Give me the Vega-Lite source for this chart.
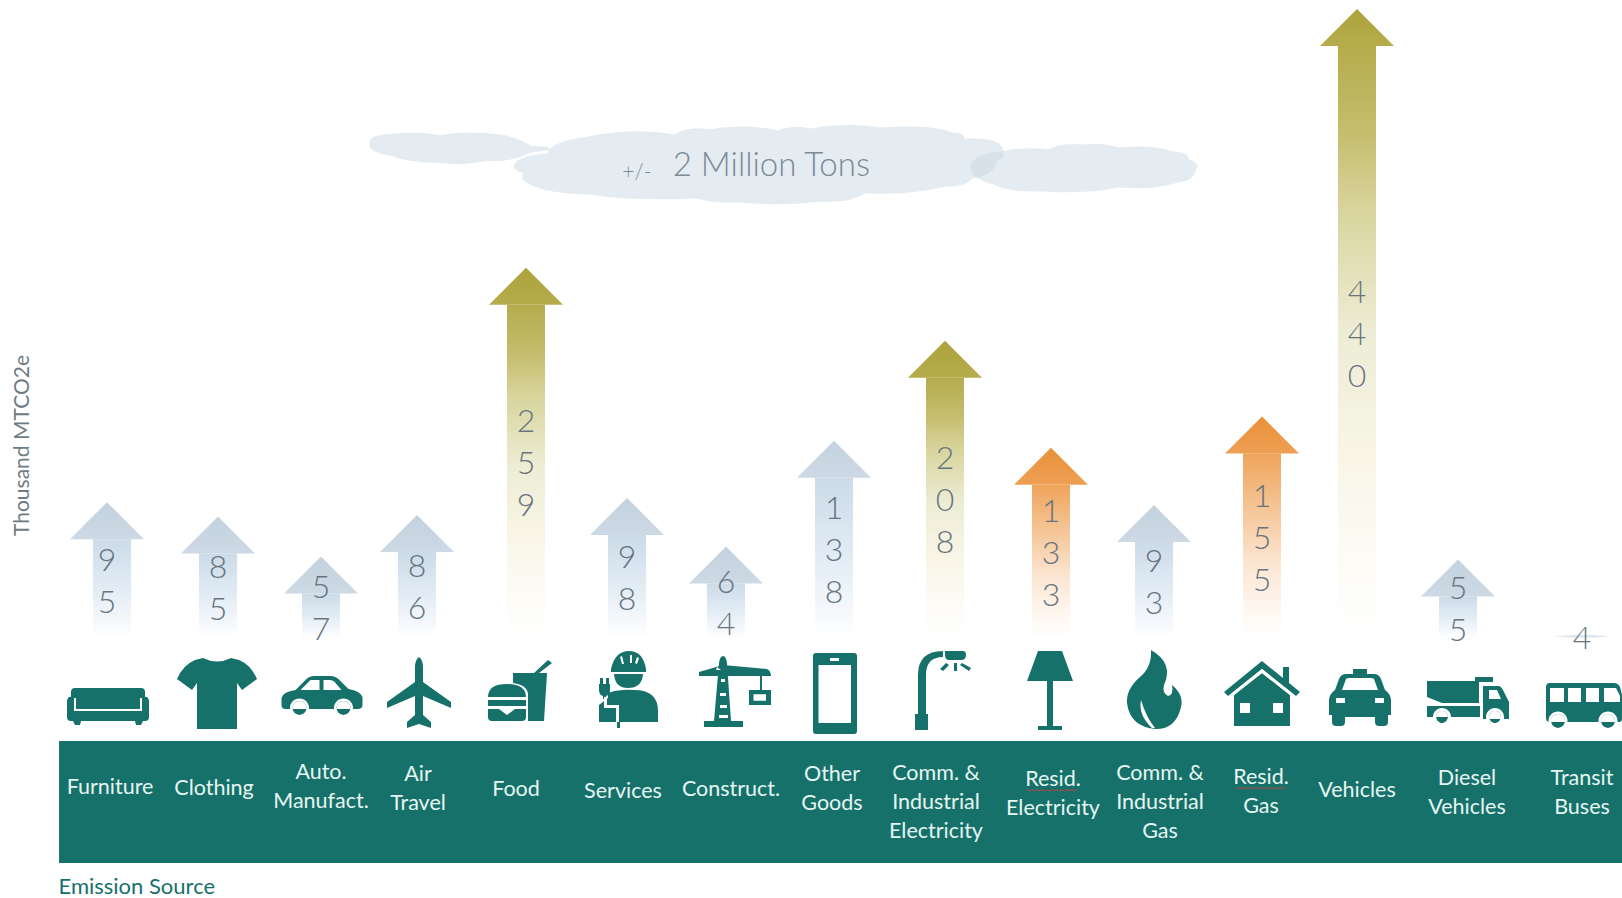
{
  "$schema": "https://vega.github.io/schema/vega-lite/v6.json",
  "width": 1622,
  "height": 898,
  "padding": 0,
  "autosize": "none",
  "background": "#ffffff",
  "view": {"stroke": null},
  "config": {"font": "Lato"},
  "datasets": {
    "sources": [
      {"order": 1, "source": "Furniture", "label": "Furniture", "value": 95, "tier": "A"},
      {"order": 2, "source": "Clothing", "label": "Clothing", "value": 85, "tier": "A"},
      {"order": 3, "source": "Auto", "label": "Auto.\nManufact.", "value": 57, "tier": "A"},
      {"order": 4, "source": "Air", "label": "Air\nTravel", "value": 86, "tier": "A"},
      {"order": 5, "source": "Food", "label": "Food", "value": 259, "tier": "B"},
      {"order": 6, "source": "Services", "label": "Services", "value": 98, "tier": "A"},
      {"order": 7, "source": "Construct", "label": "Construct.", "value": 64, "tier": "A"},
      {"order": 8, "source": "OtherGoods", "label": "Other\nGoods", "value": 138, "tier": "A"},
      {"order": 9, "source": "CommElec", "label": "Comm. &\nIndustrial\nElectricity", "value": 208, "tier": "B"},
      {"order": 10, "source": "ResidElec", "label": "Resid.\nElectricity", "value": 133, "tier": "C"},
      {"order": 11, "source": "CommGas", "label": "Comm. &\nIndustrial\nGas", "value": 93, "tier": "A"},
      {"order": 12, "source": "ResidGas", "label": "Resid.\nGas", "value": 155, "tier": "C"},
      {"order": 13, "source": "Vehicles", "label": "Vehicles", "value": 440, "tier": "B"},
      {"order": 14, "source": "Diesel", "label": "Diesel\nVehicles", "value": 55, "tier": "A"},
      {"order": 15, "source": "Transit", "label": "Transit\nBuses", "value": 4, "tier": "A"}
    ]
  },
  "data": {"name": "sources"},
  "resolve": {"scale": {"x": "independent", "y": "independent", "shape": "independent"}},
  "layer": [
    {
      "data": {"values": [{"part": "label strip"}]},
      "mark": {"type": "rect", "fill": "#17716B"},
      "encoding": {
        "x": {"datum": 0.568, "type": "quantitative", "axis": null, "scale": {"domain": [1,2,3,4,5,6,7,8,9,10,11,12,13,14,15], "range": [107,218,321,417,526,627,726,834,945,1051,1154,1262,1357,1458,1582], "nice": false}},
        "x2": {"datum": 15.4},
        "y": {"datum": -72, "type": "quantitative", "axis": null, "scale": {"domain": [0,440], "range": [638,9], "nice": false}},
        "y2": {"datum": -157.4}
      }
    },
    {
      "data": {"values": [{"part": "cloud left"}]},
      "mark": {"type": "point", "filled": true, "size": 4, "fill": "#C5D4DF", "opacity": 0.45, "strokeWidth": 0, "shape": "M-90,-5 Q-92,-14 -70,-15 Q-45,-18 -20,-14 Q10,-19 45,-14 Q62,-10 72,-3 Q92,-3 90,1 Q70,3 66,6 Q50,13 25,12 Q5,17 -20,14 Q-50,14 -68,7 Q-92,3 -90,-5 Z"},
      "encoding": {
        "x": {"datum": 4.39, "type": "quantitative", "axis": null, "scale": {"domain": [1,2,3,4,5,6,7,8,9,10,11,12,13,14,15], "range": [107,218,321,417,526,627,726,834,945,1051,1154,1262,1357,1458,1582], "nice": false}},
        "y": {"datum": 342, "type": "quantitative", "axis": null, "scale": {"domain": [0,440], "range": [638,9], "nice": false}}
      }
    },
    {
      "data": {"values": [{"part": "cloud right"}]},
      "mark": {"type": "point", "filled": true, "size": 4, "fill": "#C5D4DF", "opacity": 0.45, "strokeWidth": 0, "shape": "M-113,-1 Q-110,-16 -81,-17 Q-60,-22 -35,-19 Q-20,-26 -2,-24 Q20,-26 36,-21 Q70,-24 90,-17 Q106,-17 106,-9 Q118,-5 113,1 Q112,12 95,14 Q70,22 36,19 Q0,26 -40,23 Q-75,24 -89,16 Q-112,10 -113,-1 Z"},
      "encoding": {
        "x": {"datum": 10.31, "type": "quantitative", "axis": null, "scale": {"domain": [1,2,3,4,5,6,7,8,9,10,11,12,13,14,15], "range": [107,218,321,417,526,627,726,834,945,1051,1154,1262,1357,1458,1582], "nice": false}},
        "y": {"datum": 328.5, "type": "quantitative", "axis": null, "scale": {"domain": [0,440], "range": [638,9], "nice": false}}
      }
    },
    {
      "data": {"values": [{"part": "cloud main"}]},
      "mark": {"type": "point", "filled": true, "size": 4, "fill": "#C5D4DF", "opacity": 0.45, "strokeWidth": 0, "shape": "M-244,-3 Q-235,-11 -212,-12 Q-210,-24 -171,-29 Q-125,-38 -85,-31 Q-70,-40 -52,-36 Q-15,-42 18,-35 Q35,-41 51,-37 Q90,-43 121,-38 Q175,-41 192,-33 Q205,-33 205,-27 Q240,-28 243,-17 Q248,-8 238,-5 Q235,10 213,13 Q205,22 186,21 Q150,30 105,28 Q90,38 62,36 Q20,41 -20,37 Q-45,38 -63,33 Q-125,36 -171,29 Q-215,28 -231,18 Q-240,14 -236,8 Q-250,4 -244,-3 Z"},
      "encoding": {
        "x": {"datum": 7.31, "type": "quantitative", "axis": null, "scale": {"domain": [1,2,3,4,5,6,7,8,9,10,11,12,13,14,15], "range": [107,218,321,417,526,627,726,834,945,1051,1154,1262,1357,1458,1582], "nice": false}},
        "y": {"datum": 330.6, "type": "quantitative", "axis": null, "scale": {"domain": [0,440], "range": [638,9], "nice": false}}
      }
    },
    {
      "data": {"values": [{"note": "+/-"}]},
      "mark": {"type": "text", "font": "Lato", "fontWeight": 300, "fontSize": 21, "fill": "#7A8A96", "align": "center", "baseline": "middle"},
      "encoding": {
        "text": {"field": "note", "type": "nominal"},
        "x": {"datum": 6.1, "type": "quantitative", "axis": null, "scale": {"domain": [1,2,3,4,5,6,7,8,9,10,11,12,13,14,15], "range": [107,218,321,417,526,627,726,834,945,1051,1154,1262,1357,1458,1582], "nice": false}},
        "y": {"datum": 325.5, "type": "quantitative", "axis": null, "scale": {"domain": [0,440], "range": [638,9], "nice": false}}
      }
    },
    {
      "data": {"values": [{"note": "2 Million Tons"}]},
      "mark": {"type": "text", "font": "Lato", "fontWeight": 300, "fontSize": 33, "fill": "#7A8A96", "align": "center", "baseline": "middle", "letterSpacing": 1},
      "encoding": {
        "text": {"field": "note", "type": "nominal"},
        "x": {"datum": 7.42, "type": "quantitative", "axis": null, "scale": {"domain": [1,2,3,4,5,6,7,8,9,10,11,12,13,14,15], "range": [107,218,321,417,526,627,726,834,945,1051,1154,1262,1357,1458,1582], "nice": false}},
        "y": {"datum": 330, "type": "quantitative", "axis": null, "scale": {"domain": [0,440], "range": [638,9], "nice": false}}
      }
    },
    {
      "transform": [{"filter": "datum.tier === 'A'"}, {"calculate": "max(datum.value - 25.9, 0)", "as": "shaftTop"}],
      "mark": {"type": "bar", "orient": "vertical", "width": 38, "fill": {"gradient": "linear", "x1": 0, "y1": 0, "x2": 0, "y2": 1, "stops": [{"offset": 0, "color": "#CCDBE8"}, {"offset": 0.5, "color": "#E2ECF5"}, {"offset": 0.85, "color": "#F6F9FC"}, {"offset": 1, "color": "#FFFFFF"}]}},
      "encoding": {
        "x": {"field": "order", "type": "quantitative", "title": "Emission Source", "scale": {"domain": [1,2,3,4,5,6,7,8,9,10,11,12,13,14,15], "range": [107,218,321,417,526,627,726,834,945,1051,1154,1262,1357,1458,1582], "nice": false}, "axis": {"labels": false, "ticks": false, "domain": false, "grid": false, "titleX": 58, "titleY": -12, "titleAlign": "left", "titleBaseline": "middle", "titleFont": "Lato", "titleFontWeight": "normal", "titleFontSize": 22, "titleColor": "#17716B"}},
        "y": {"field": "shaftTop", "type": "quantitative", "title": "Thousand MTCO2e", "scale": {"domain": [0,440], "range": [638,9], "nice": false}, "axis": {"labels": false, "ticks": false, "domain": false, "grid": false, "titleX": 22, "titleY": 445, "titleAngle": -90, "titleAlign": "center", "titleBaseline": "middle", "titleFont": "Lato", "titleFontWeight": "normal", "titleFontSize": 21, "titleColor": "#6E7C85"}},
        "y2": {"datum": 0}
      }
    },
    {
      "transform": [{"filter": "datum.tier === 'B'"}, {"calculate": "max(datum.value - 25.9, 0)", "as": "shaftTop"}],
      "mark": {"type": "bar", "orient": "vertical", "width": 38, "fill": {"gradient": "linear", "x1": 0, "y1": 0, "x2": 0, "y2": 1, "stops": [{"offset": 0, "color": "#B5AC4C"}, {"offset": 0.15, "color": "#C5BE6E"}, {"offset": 0.28, "color": "#D9D59E"}, {"offset": 0.48, "color": "#EDECD4"}, {"offset": 0.7, "color": "#F9F6E8"}, {"offset": 1, "color": "#FFFFFF"}]}},
      "encoding": {
        "x": {"field": "order", "type": "quantitative", "axis": null, "scale": {"domain": [1,2,3,4,5,6,7,8,9,10,11,12,13,14,15], "range": [107,218,321,417,526,627,726,834,945,1051,1154,1262,1357,1458,1582], "nice": false}},
        "y": {"field": "shaftTop", "type": "quantitative", "axis": null, "scale": {"domain": [0,440], "range": [638,9], "nice": false}},
        "y2": {"datum": 0}
      }
    },
    {
      "transform": [{"filter": "datum.tier === 'C'"}, {"calculate": "max(datum.value - 25.9, 0)", "as": "shaftTop"}],
      "mark": {"type": "bar", "orient": "vertical", "width": 38, "fill": {"gradient": "linear", "x1": 0, "y1": 0, "x2": 0, "y2": 1, "stops": [{"offset": 0, "color": "#EFA45A"}, {"offset": 0.3, "color": "#F5C597"}, {"offset": 0.6, "color": "#FCE6D2"}, {"offset": 0.85, "color": "#FEF7F0"}, {"offset": 1, "color": "#FFFFFF"}]}},
      "encoding": {
        "x": {"field": "order", "type": "quantitative", "axis": null, "scale": {"domain": [1,2,3,4,5,6,7,8,9,10,11,12,13,14,15], "range": [107,218,321,417,526,627,726,834,945,1051,1154,1262,1357,1458,1582], "nice": false}},
        "y": {"field": "shaftTop", "type": "quantitative", "axis": null, "scale": {"domain": [0,440], "range": [638,9], "nice": false}},
        "y2": {"datum": 0}
      }
    },
    {
      "transform": [{"filter": "datum.tier === 'A'"}],
      "mark": {"type": "point", "filled": true, "size": 4, "strokeWidth": 0, "fill": {"gradient": "linear", "x1": 0, "y1": 0, "x2": 0, "y2": 1, "stops": [{"offset": 0, "color": "#C3D2DF"}, {"offset": 1, "color": "#CDD9E4"}]}},
      "encoding": {
        "x": {"field": "order", "type": "quantitative", "axis": null, "scale": {"domain": [1,2,3,4,5,6,7,8,9,10,11,12,13,14,15], "range": [107,218,321,417,526,627,726,834,945,1051,1154,1262,1357,1458,1582], "nice": false}},
        "y": {"field": "value", "type": "quantitative", "axis": null, "scale": {"domain": [0,440], "range": [638,9], "nice": false}},
        "opacity": {"condition": {"test": "datum.value < 10", "value": 0.6}, "value": 1},
        "shape": {"condition": {"test": "datum.value < 10", "value": "M-28,4 Q0,1 28,4 Q0,7 -28,4 Z"}, "value": "M0,0 L37,37 L-37,37 Z"}
      }
    },
    {
      "transform": [{"filter": "datum.tier === 'B'"}],
      "mark": {"type": "point", "filled": true, "size": 4, "strokeWidth": 0, "opacity": 1, "shape": "M0,0 L37,37 L-37,37 Z", "fill": {"gradient": "linear", "x1": 0, "y1": 0, "x2": 0, "y2": 1, "stops": [{"offset": 0, "color": "#ACA33C"}, {"offset": 1, "color": "#B5AC4C"}]}},
      "encoding": {
        "x": {"field": "order", "type": "quantitative", "axis": null, "scale": {"domain": [1,2,3,4,5,6,7,8,9,10,11,12,13,14,15], "range": [107,218,321,417,526,627,726,834,945,1051,1154,1262,1357,1458,1582], "nice": false}},
        "y": {"field": "value", "type": "quantitative", "axis": null, "scale": {"domain": [0,440], "range": [638,9], "nice": false}}
      }
    },
    {
      "transform": [{"filter": "datum.tier === 'C'"}],
      "mark": {"type": "point", "filled": true, "size": 4, "strokeWidth": 0, "opacity": 1, "shape": "M0,0 L37,37 L-37,37 Z", "fill": {"gradient": "linear", "x1": 0, "y1": 0, "x2": 0, "y2": 1, "stops": [{"offset": 0, "color": "#E89038"}, {"offset": 1, "color": "#EFA054"}]}},
      "encoding": {
        "x": {"field": "order", "type": "quantitative", "axis": null, "scale": {"domain": [1,2,3,4,5,6,7,8,9,10,11,12,13,14,15], "range": [107,218,321,417,526,627,726,834,945,1051,1154,1262,1357,1458,1582], "nice": false}},
        "y": {"field": "value", "type": "quantitative", "axis": null, "scale": {"domain": [0,440], "range": [638,9], "nice": false}}
      }
    },
    {
      "transform": [
        {"calculate": "join(split('' + datum.value, ''), '\\n')", "as": "digits"},
        {"calculate": "datum.value / 2", "as": "middle"}
      ],
      "mark": {"type": "text", "font": "Lato", "fontWeight": 300, "fontSize": 32, "fill": "#66757F", "align": "center", "baseline": "middle", "lineBreak": "\n", "lineHeight": 42, "yOffset": {"expr": "(datum.value < 10 ? 4 : 11.5) - (length('' + datum.value) - 1) * 21"}},
      "encoding": {
        "text": {"field": "digits", "type": "nominal"},
        "x": {"field": "order", "type": "quantitative", "axis": null, "scale": {"domain": [1,2,3,4,5,6,7,8,9,10,11,12,13,14,15], "range": [107,218,321,417,526,627,726,834,945,1051,1154,1262,1357,1458,1582], "nice": false}},
        "y": {"field": "middle", "type": "quantitative", "axis": null, "scale": {"domain": [0,440], "range": [638,9], "nice": false}}
      }
    },
    {
      "mark": {"type": "point", "filled": true, "size": 4, "strokeWidth": 0, "opacity": 1, "fill": "#17716B"},
      "encoding": {
        "x": {"field": "order", "type": "quantitative", "axis": null, "scale": {"domain": [1,2,3,4,5,6,7,8,9,10,11,12,13,14,15], "range": [108,217,321.5,419,520,628,735,835,943,1050,1154,1262,1360,1468,1584], "nice": false}},
        "y": {"datum": -38.5, "type": "quantitative", "axis": null, "scale": {"domain": [0,440], "range": [638,9], "nice": false}},
        "shape": {
          "field": "source", "type": "nominal", "legend": null,
          "scale": {
            "domain": ["Furniture","Clothing","Auto","Air","Food","Services","Construct","OtherGoods","CommElec","ResidElec","CommGas","ResidGas","Vehicles","Diesel","Transit"],
            "range": [
              "M-33,-5 H33 Q37,-5 37,-1 V4 Q40,3 41,8 V24 Q41,28 37,28 H35 L33,32 H28 L27,28 H-27 L-28,32 H-33 L-35,28 H-37 Q-41,28 -41,24 V8 Q-40,3 -37,4 V-1 Q-37,-5 -33,-5 Z",
              "M-14,-35 Q0,-28 14,-35 L22,-33 Q34,-28 40,-14 L25,-3 L20,-10 V36 H-20 V-10 L-25,-3 L-40,-14 Q-34,-28 -22,-33 Z",
              "M-40,12 V5 Q-39,-1 -26,-3 L-15,-14 Q-12,-17 -7,-17 H9 Q14,-17 18,-13 L27,-4 Q39,-2 41,4 V12 Q41,16 36,16 H-36 Q-40,16 -40,12 Z M-29,15 a7,7 0 1,0 14,0 a7,7 0 1,0 -14,0 Z M15,15 a7,7 0 1,0 14,0 a7,7 0 1,0 -14,0 Z",
              "M0,-36 Q4,-33 4,-26 V-11 L32,9 V15 L4,3 V22 L12,29 V35 L0,31 L-12,35 V29 L-4,22 V3 L-32,15 V9 L-4,-11 V-26 Q-4,-33 0,-36 Z",
              "M-7,-20 H27 L24,28 H8 V2 Q8,-8 -7,-10 Z M14,-20 L28,-33 L32,-30 L19,-20 Z M-32,4 Q-32,-9 -13,-9 Q6,-9 6,4 Z M-32,7 H6 V13 H-32 Z M-32,16 H-21 L-13,22 L-5,16 H6 V24 Q6,28 2,28 H-28 Q-32,28 -32,24 Z",
              "M-17,-24 Q-13,-42 1,-42 Q15,-42 18,-24 L18,-21 H-17 Z M-14,-19 H15 Q14,-5 0,-5 Q-13,-5 -14,-19 Z M-29,29 V12 L-20,5 V0 Q-8,-4 6,-3 Q30,-3 30,18 V29 Z M-11,29 H-8 V35 H-11 Z M-28,-15 H-25 V-9 H-22 V-15 H-19 V-9 H-18 V-3 Q-18,2 -22,3 V6 H-25 V3 Q-29,2 -29,-3 V-9 H-28 Z",
              "M-12,-37 Q-9,-37 -8,-30 L-4,28 H8 V34 H-31 V28 H-21 L-16,-30 Q-15,-37 -12,-37 Z M-36,-21 L-12,-28 L32,-24 Q36,-22 36,-17 H-36 Z M25,-17 H27 V-3 H25 Z M14,-3 H36 V12 H14 Z",
              "M-19,-40 H19 Q22,-40 22,-37 V38 Q22,41 19,41 H-19 Q-22,41 -22,38 V-37 Q-22,-40 -19,-40 Z",
              "M-25,21 V-18 Q-25,-42 0,-42 V-36 Q-17,-36 -17,-18 V21 Z M-28,21 H-15 V37 H-28 Z M2,-42 H20 Q23,-42 23,-38 Q23,-33 18,-33 H6 Q2,-33 2,-38 Z M11,-30 H14 V-22 H11 Z M3,-30 L6,-28 L0,-22 L-3,-24 Z M19,-30 L28,-25 L26,-22 L17,-28 Z",
              "M-12,-42 H12 L23,-12 H-23 Z M-3,-12 H3 V33 H12 V37 H-12 V33 H-3 Z",
              "M-3,-43 Q20,-30 10,-8 Q8,0 14,3 Q20,2 18,-8 Q30,2 27,14 Q22,36 2,36 Q-24,34 -27,10 Q-28,-4 -14,-16 Q-2,-26 -3,-43 Z",
              "M0,-32 L21,-15 V-26 H27 V-10 L38,-1 L34,3 L0,-24 L-34,3 L-38,-1 Z M-28,2 L0,-20 L28,2 V33 H-28 Z",
              "M-7,-24 H7 V-19 H14 Q19,-19 21,-14 L25,-3 Q31,1 31,8 V22 H28 V29 Q28,33 24,33 H19 Q15,33 15,29 V24 H-15 V29 Q-15,33 -19,33 H-24 Q-28,33 -28,29 V22 H-31 V8 Q-31,1 -25,-3 L-21,-14 Q-19,-19 -14,-19 H-7 Z",
              "M-41,-12 H7 V-16 H25 V-11 H11 V10 H-26 L-41,4 Z M-41,13 H12 V24 H-41 Z M15,-7 H30 Q33,-7 35,-3 L41,9 V26 H15 Z M-32,24 a6,6 0 1,0 12,0 a6,6 0 1,0 -12,0 Z M21,24 a6,6 0 1,0 12,0 a6,6 0 1,0 -12,0 Z",
              "M-34,-10 H30 Q34,-10 36,-6 L38,2 V26 Q38,29 35,29 H-34 Q-38,29 -38,25 V-6 Q-38,-10 -34,-10 Z M-33,28 a7,7 0 1,0 14,0 a7,7 0 1,0 -14,0 Z M17,28 a7,7 0 1,0 14,0 a7,7 0 1,0 -14,0 Z"
            ]
          }
        }
      }
    },
    {
      "mark": {"type": "point", "filled": true, "size": 4, "strokeWidth": 0, "opacity": 1, "fill": "#FFFFFF"},
      "encoding": {
        "x": {"field": "order", "type": "quantitative", "axis": null, "scale": {"domain": [1,2,3,4,5,6,7,8,9,10,11,12,13,14,15], "range": [108,217,321.5,419,520,628,735,835,943,1050,1154,1262,1360,1468,1584], "nice": false}},
        "y": {"datum": -38.5, "type": "quantitative", "axis": null, "scale": {"domain": [0,440], "range": [638,9], "nice": false}},
        "shape": {
          "field": "source", "type": "nominal", "legend": null,
          "scale": {
            "domain": ["Furniture","Clothing","Auto","Air","Food","Services","Construct","OtherGoods","CommElec","ResidElec","CommGas","ResidGas","Vehicles","Diesel","Transit"],
            "range": [
              "M-34,5 H-32 V16 H32 V5 H34 V18 H-34 Z",
              "M0,0 Z",
              "M-21,-3 L-11,-13 H-2 V-3 Z M2,-13 H8 Q12,-13 14,-10 L20,-3 H2 Z M-31.5,15 a9.5,9.5 0 1,0 19,0 a9.5,9.5 0 1,0 -19,0 Z M-29,15 a7,7 0 1,1 14,0 a7,7 0 1,1 -14,0 Z M12.5,15 a9.5,9.5 0 1,0 19,0 a9.5,9.5 0 1,0 -19,0 Z M15,15 a7,7 0 1,1 14,0 a7,7 0 1,1 -14,0 Z",
              "M0,0 Z",
              "M-24,5 H-2 V5.5 H-24 Z",
              "M-24,4 H-21 V12 H-9 V29 H-12 V15 H-24 Z M-6,-37 L-4,-29 L-6,-29 L-8,-36 Z M2,-38 H4 V-30 H2 Z M9,-36 L11,-35 L9,-29 L7,-30 Z",
              "M-14,-14 H-10 V-11 H-14 Z M-15,0 H-9 V3 H-15 Z M-15,12 H-8 V15 H-15 Z M-16,22 H-7 V25 H-16 Z M18.5,1.3 H31 V7.7 H18.5 Z M-18,-26 L-14,-23 H-19 Z",
              "M-16.5,-28 H16 V30 H-16.5 Z M-5,-35 H4 V-32 H-5 Z",
              "M0,0 Z",
              "M3,-12 H5 V-3 H3 Z",
              "M-13,7 Q-16,22 -2,35 L1,35 Q-8,24 -13,7 Z",
              "M-28,2 L0,-20 L0,-24 L-30,0 Z M28,2 L0,-20 L0,-24 L30,0 Z M-22,10 H-12 V20 H-22 Z M11,10 H21 V20 H11 Z",
              "M-18,-3 L-14,-14 Q-13,-15 -11,-15 H11 Q13,-15 14,-14 L18,-3 Z M-24,5 H-15 V10 H-24 Z M15,5 H24 V10 H15 Z",
              "M21,-3 H29 L33,6 H21 Z M-35,24 a9,9 0 1,0 18,0 a9,9 0 1,0 -18,0 Z M-32,24 a6,6 0 1,1 12,0 a6,6 0 1,1 -12,0 Z M18,24 a9,9 0 1,0 18,0 a9,9 0 1,0 -18,0 Z M21,24 a6,6 0 1,1 12,0 a6,6 0 1,1 -12,0 Z",
              "M-34,-5 H-20 V9 H-34 Z M-16,-5 H-3 V9 H-16 Z M2,-5 H15 V9 H2 Z M20,-5 H32 L36,3 V9 H20 Z M-35.5,28 a9.5,9.5 0 1,0 19,0 a9.5,9.5 0 1,0 -19,0 Z M-33,28 a7,7 0 1,1 14,0 a7,7 0 1,1 -14,0 Z M14.5,28 a9.5,9.5 0 1,0 19,0 a9.5,9.5 0 1,0 -19,0 Z M17,28 a7,7 0 1,1 14,0 a7,7 0 1,1 -14,0 Z"
            ]
          }
        }
      }
    },
    {
      "mark": {"type": "text", "font": "Lato", "fontSize": 21.5, "fill": "#E6F6F1", "align": "center", "baseline": "middle", "lineBreak": "\n", "lineHeight": 29, "yOffset": {"expr": "1.5 - (length(split(datum.label, '\\n')) - 1) * 14.5"}},
      "encoding": {
        "text": {"field": "label", "type": "nominal"},
        "x": {"field": "order", "type": "quantitative", "axis": null, "scale": {"domain": [1,2,3,4,5,6,7,8,9,10,11,12,13,14,15], "range": [110,214,321,418,516,623,731,832,936,1053,1160,1261,1357,1467,1582], "nice": false}},
        "y": {"field": "order", "type": "quantitative", "axis": null, "scale": {"domain": [1,2,3,4,5,6,7,8,9,10,11,12,13,14,15], "range": [786,787,786,788,788,790,788,788,801,793,801,791,789,792,792], "nice": false}}
      }
    },
    {
      "transform": [{"filter": "indexof(datum.label, 'Resid') >= 0"}],
      "mark": {"type": "point", "filled": false, "size": 4, "stroke": "#C8453C", "strokeWidth": 1, "opacity": 0.9, "shape": "M-25,0 l2.5,1.5 l2.5,-1.5 l2.5,1.5 l2.5,-1.5 l2.5,1.5 l2.5,-1.5 l2.5,1.5 l2.5,-1.5 l2.5,1.5 l2.5,-1.5 l2.5,1.5 l2.5,-1.5 l2.5,1.5 l2.5,-1.5 l2.5,1.5 l2.5,-1.5 l2.5,1.5 l2.5,-1.5 l2.5,1.5 l2.5,-1.5", "yOffset": -3.5},
      "encoding": {
        "x": {"field": "order", "type": "quantitative", "axis": null, "scale": {"domain": [1,2,3,4,5,6,7,8,9,10,11,12,13,14,15], "range": [110,214,321,418,516,623,731,832,936,1052,1160,1261,1357,1467,1582], "nice": false}},
        "y": {"field": "order", "type": "quantitative", "axis": null, "scale": {"domain": [1,2,3,4,5,6,7,8,9,10,11,12,13,14,15], "range": [786,787,786,788,788,790,788,788,801,793,801,791,789,792,792], "nice": false}}
      }
    }
  ]
}
